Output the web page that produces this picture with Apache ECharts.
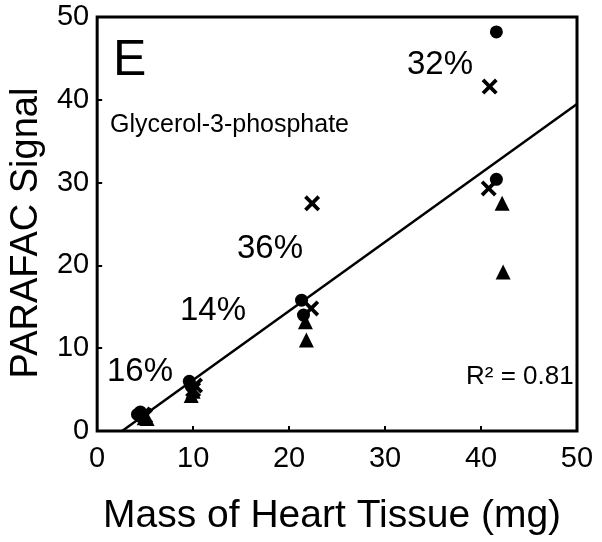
<!DOCTYPE html>
<html>
<head>
<meta charset="utf-8">
<script src="https://cdn.jsdelivr.net/npm/echarts@6/dist/echarts.min.js"></script>
<style>html,body{margin:0;padding:0;background:#fff}#c{width:602px;height:542px}</style>
</head>
<body>
<div id="c"></div>
<script>
// Data
const circleX = [4.2, 4.5, 9.6, 9.8, 21.3, 21.5, 41.6, 41.6];
const circleY = [2.0, 2.3, 6.0, 5.4, 15.8, 14.0, 48.2, 30.4];
const crossX = [5.0, 4.8, 10.2, 10.0, 22.4, 22.3, 40.9, 40.8];
const crossY = [1.8, 2.0, 5.5, 5.0, 27.5, 14.8, 41.6, 29.3];
const triX = [5.2, 4.9, 9.8, 10.0, 21.7, 21.8, 42.2, 42.3];
const triY = [1.5, 1.6, 4.3, 4.8, 13.2, 11.0, 27.5, 19.2];
const fitX = [2.6, 50];
const fitY = [0, 39.5];
const xTicks = [0, 10, 20, 30, 40, 50];
const yTicks = [0, 10, 20, 30, 40, 50];
const xTitle = 'Mass of Heart Tissue (mg)';
const yTitle = 'PARAFAC Signal';
const panel = 'E';
const compound = 'Glycerol-3-phosphate';
const cvLabels = ['16%', '14%', '36%', '32%'];
const r2Label = 'R\u00B2 = 0.81';

const FONT = '"Liberation Sans", Arial, sans-serif';
const pair = (xs, ys) => xs.map((x, i) => [x, ys[i]]);
const crossPath = 'path://M0,2 L2,0 L6,4 L10,0 L12,2 L8,6 L12,10 L10,12 L6,8 L2,12 L0,10 L4,6 Z';

const chart = echarts.init(document.getElementById('c'), null, {renderer: 'canvas'});
const txt = (text, x, y, size) => ({
  type: 'text', left: x, top: y, z: 10,
  style: {text: text, font: size + 'px ' + FONT, fill: '#000'}
});
const mk = {color: '#000', opacity: 1};
chart.setOption({
  animation: false,
  backgroundColor: '#fff',
  grid: {left: 97, right: 25, top: 17, bottom: 111, show: true, borderColor: '#000', borderWidth: 3, backgroundColor: 'transparent'},
  xAxis: {
    type: 'value', min: xTicks[0], max: xTicks[xTicks.length - 1], interval: 10,
    name: xTitle, nameLocation: 'middle', nameGap: 66,
    nameTextStyle: {fontFamily: FONT, fontSize: 39, color: '#000', padding: [0, 10, 0, 0]},
    axisLine: {show: false},
    axisTick: {show: true, inside: true, length: 5, lineStyle: {color: '#000', width: 2}},
    axisLabel: {margin: 13, fontFamily: FONT, fontSize: 29, color: '#000'},
    splitLine: {show: false}
  },
  yAxis: {
    type: 'value', min: yTicks[0], max: yTicks[yTicks.length - 1], interval: 10,
    name: yTitle, nameLocation: 'middle', nameGap: 43,
    nameTextStyle: {fontFamily: FONT, fontSize: 38, color: '#000', padding: [0, 18, 0, 0]},
    axisLine: {show: false},
    axisTick: {show: true, inside: true, length: 5, lineStyle: {color: '#000', width: 2}},
    axisLabel: {margin: 8, fontFamily: FONT, fontSize: 29, color: '#000'},
    splitLine: {show: false}
  },
  series: [
    {type: 'line', data: pair(fitX, fitY), symbol: 'none', lineStyle: {color: '#000', width: 2.5}, z: 1},
    {type: 'scatter', data: pair(circleX, circleY), symbol: 'circle', symbolSize: 13, itemStyle: mk, z: 3},
    {type: 'scatter', data: pair(crossX, crossY), symbol: crossPath, symbolSize: 16, itemStyle: mk, z: 3},
    {type: 'scatter', data: pair(triX, triY), symbol: 'triangle', symbolSize: 15, itemStyle: mk, z: 3}
  ],
  graphic: [
    txt(panel, 113, 36, 50),
    txt(compound, 110, 113, 25),
    txt(cvLabels[0], 107, 355, 33),
    txt(cvLabels[1], 180, 294, 33),
    txt(cvLabels[2], 237, 232, 33),
    txt(cvLabels[3], 407, 48, 33),
    txt(r2Label, 466, 364, 26)
  ]
});
</script>
</body>
</html>
